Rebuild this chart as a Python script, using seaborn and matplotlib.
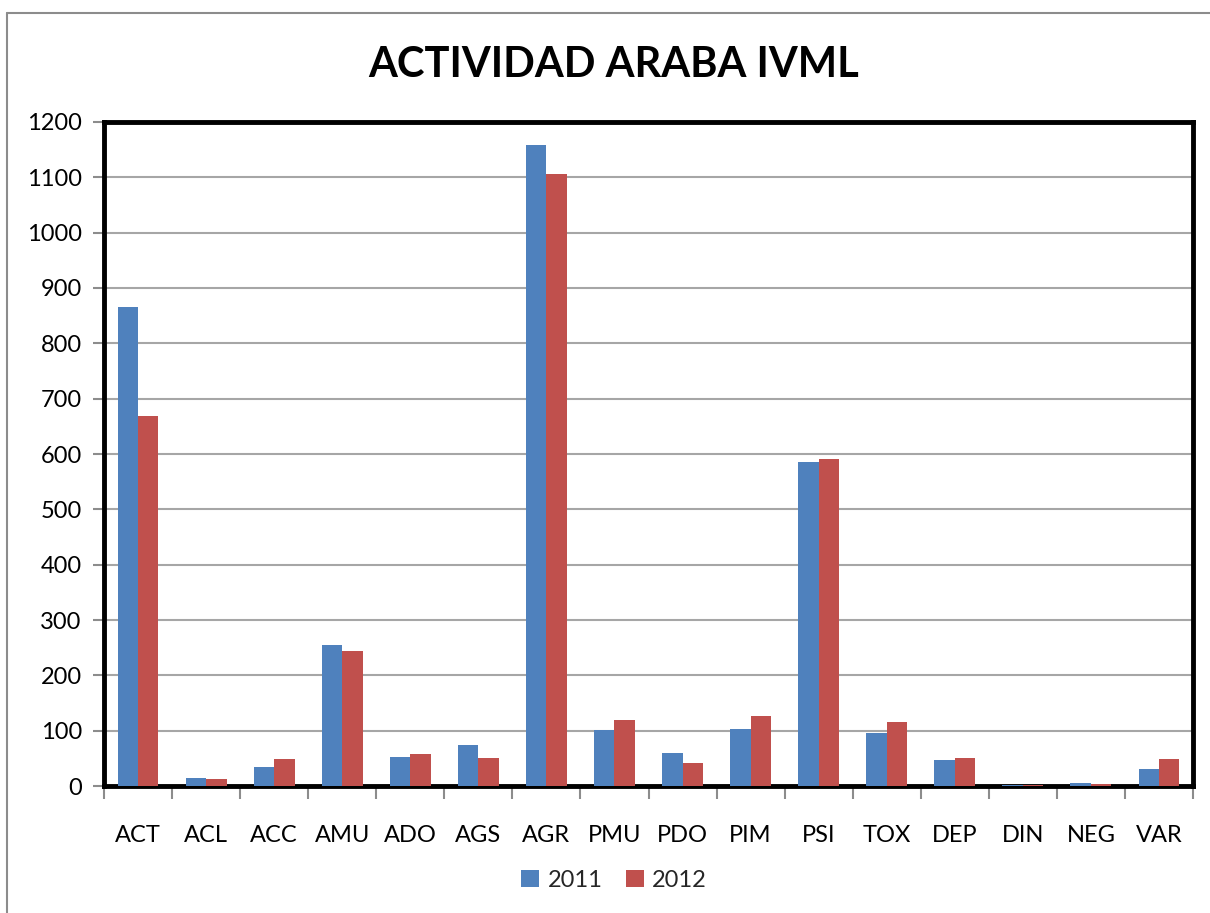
import numpy as np
import pandas as pd
import matplotlib
matplotlib.use("Agg")
import matplotlib.pyplot as plt
from matplotlib.lines import Line2D
import seaborn as sns

# Data
categories = ["ACT", "ACL", "ACC", "AMU", "ADO", "AGS", "AGR", "PMU",
              "PDO", "PIM", "PSI", "TOX", "DEP", "DIN", "NEG", "VAR"]
values_2011 = [866, 15, 34, 255, 52, 74, 1158, 101, 60, 103, 586, 96, 47, 2, 5, 31]
values_2012 = [669, 13, 49, 244, 58, 50, 1106, 119, 42, 127, 591, 116, 51, 1, 3, 49]
years = ["2011", "2012"]
colors = ["#4F81BD", "#C0504D"]

df = pd.DataFrame({
    "Categoria": categories * 2,
    "Valor": values_2011 + values_2012,
    "Año": [years[0]] * len(categories) + [years[1]] * len(categories),
})

sns.set_style("white")
plt.rcParams["font.family"] = ["Lato", "DejaVu Sans"]

fig = plt.figure(figsize=(12.1, 9.13), dpi=100)
ax = fig.add_axes([104 / 1210, 1 - 786 / 913, (1193 - 104) / 1210, (786 - 122) / 913])

sns.barplot(data=df, x="Categoria", y="Valor", hue="Año", palette=colors,
            width=0.6, saturation=1, linewidth=0, ax=ax, zorder=3)

# Axes styling
ax.set_ylim(0, 1200)
ax.set_xlim(-0.5, len(categories) - 0.5)
ax.set_yticks(np.arange(0, 1201, 100))
ax.yaxis.grid(True, color="#a6a6a6", linewidth=1.5, zorder=0)
ax.set_axisbelow(True)
ax.set_xlabel("")
ax.set_ylabel("")

ax.set_xticks(np.arange(-0.5, len(categories), 1), minor=True)
ax.tick_params(axis="x", which="major", length=0, pad=28, labelsize=17,
               labelcolor="black")
ax.tick_params(axis="x", which="minor", length=9, width=1.5, color="#8c8c8c",
               direction="out", bottom=True)
ax.tick_params(axis="y", length=8, width=1.5, color="#8c8c8c", direction="out",
               left=True, labelsize=17, pad=8, labelcolor="black")

for side in ["top", "right", "bottom", "left"]:
    ax.spines[side].set_visible(True)
    ax.spines[side].set_color("black")
    ax.spines[side].set_linewidth(3.5)
    ax.spines[side].set_zorder(2.5)

fig.text(614 / 1210, 1 - 65 / 913, "ACTIVIDAD ARABA IVML", fontsize=30,
         fontweight="bold", ha="center", va="center", color="black")

# Legend at the bottom
ax.legend(loc="center", bbox_to_anchor=(614 / 1210, 1 - 880 / 913), ncol=2,
          bbox_transform=fig.transFigure, frameon=False, fontsize=17,
          handlelength=0.75, handleheight=0.75, handletextpad=0.35,
          columnspacing=1.0)

# Outer chart border (grey)
fig.add_artist(Line2D([7 / 1210, 1], [1 - 13 / 913, 1 - 13 / 913],
                      color="#8c8c8c", linewidth=1.5))
fig.add_artist(Line2D([7 / 1210, 7 / 1210], [0, 1 - 13 / 913],
                      color="#8c8c8c", linewidth=1.5))

fig.savefig("out.png", dpi=100)
